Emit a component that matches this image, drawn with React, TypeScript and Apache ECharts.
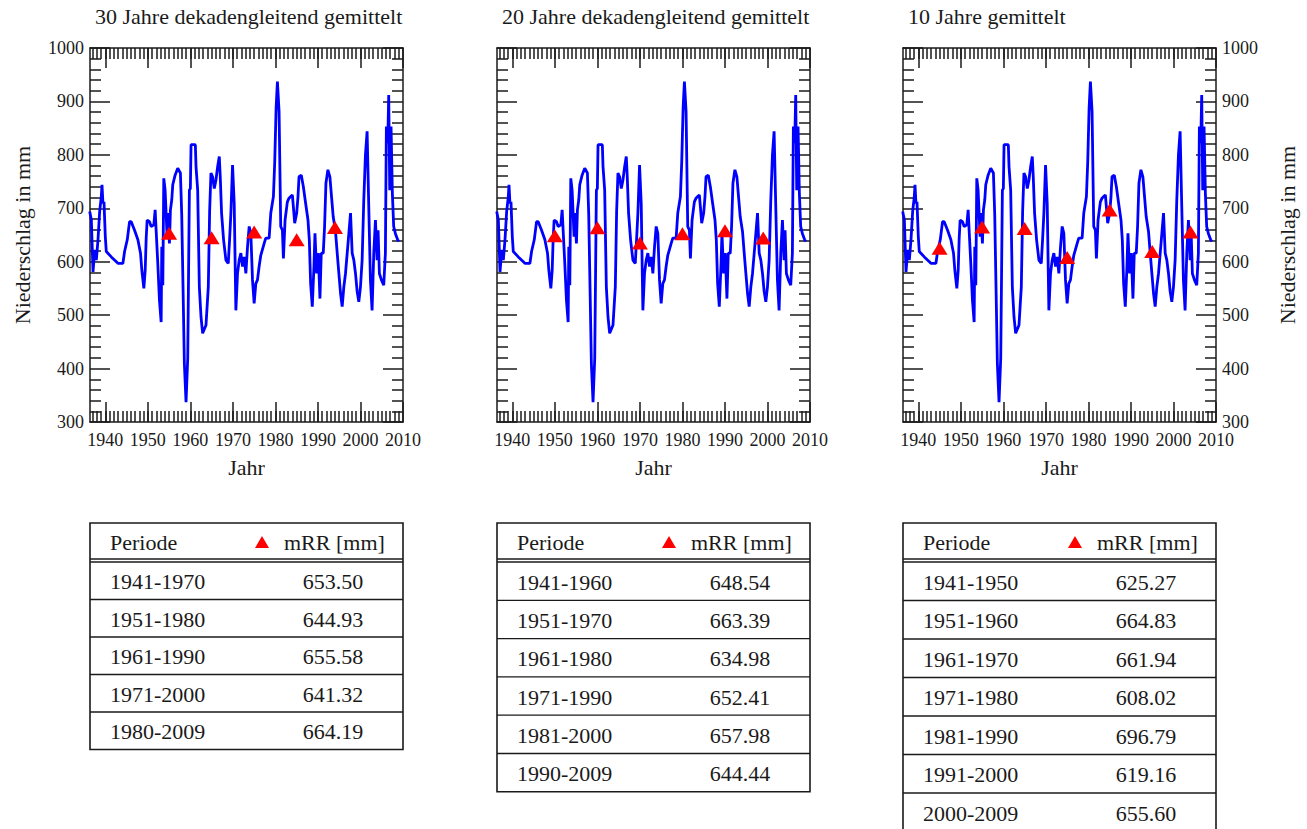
import React, { useEffect, useRef } from 'react';
import * as echarts from 'echarts';

// Jahresniederschlag, decimal years
const years = [
  1936.33, 1936.72, 1937.11, 1937.5, 1937.89, 1938.28, 1938.67, 1939.06, 1939.22, 1939.45, 1939.69, 1940.0, 1940.23,
  1941.41, 1942.97, 1944.14, 1944.53, 1945.16, 1945.7, 1946.09, 1946.88, 1947.66, 1948.28, 1948.59, 1949.06, 1949.38,
  1949.61, 1949.84, 1950.39, 1950.78, 1951.41, 1951.72, 1951.95, 1952.34, 1952.73, 1953.13, 1953.28, 1953.52, 1953.75,
  1954.06, 1954.53, 1954.69, 1955.08, 1955.31, 1955.63, 1955.86, 1956.41, 1957.03, 1957.66, 1957.97, 1958.28, 1958.59,
  1958.98, 1959.38, 1959.77, 1960.0, 1960.16, 1961.17, 1961.33, 1961.72, 1962.11, 1962.5, 1962.89, 1963.67, 1964.22,
  1964.53, 1964.84, 1965.23, 1965.63, 1966.02, 1966.41, 1966.8, 1967.03, 1967.34, 1967.81, 1968.36, 1968.91, 1969.22,
  1969.53, 1969.92, 1970.31, 1970.7, 1971.09, 1971.48, 1971.88, 1972.27, 1972.66, 1973.05, 1973.44, 1973.83, 1974.22,
  1974.61, 1975.0, 1975.39, 1975.78, 1976.17, 1976.56, 1977.34, 1977.73, 1978.52, 1978.91, 1979.53, 1979.84, 1980.16,
  1980.47, 1980.86, 1981.25, 1981.64, 1981.88, 1982.27, 1982.81, 1983.2, 1983.59, 1983.98, 1984.22, 1984.53, 1985.0,
  1985.31, 1985.55, 1986.09, 1986.56, 1987.11, 1987.66, 1987.97, 1988.28, 1988.67, 1989.06, 1989.3, 1989.69, 1990.08,
  1990.47, 1990.78, 1991.25, 1991.56, 1991.88, 1992.34, 1992.81, 1993.13, 1993.59, 1994.14, 1994.53, 1994.92, 1995.31,
  1995.7, 1996.09, 1996.48, 1996.88, 1997.27, 1997.66, 1998.05, 1998.44, 1998.83, 1999.22, 1999.61, 2000.0, 2000.39,
  2000.78, 2001.17, 2001.56, 2001.95, 2002.34, 2002.73, 2003.13, 2003.52, 2003.91, 2004.14, 2004.45, 2004.92, 2005.47,
  2005.86, 2006.09, 2006.41, 2006.64, 2006.88, 2007.19, 2007.5, 2007.81, 2008.2, 2008.75, 2009.06,
];
const precip = [
  694, 678, 581, 622, 603, 641, 694, 722, 744, 709, 712, 647, 619,
  609, 597, 597, 619, 641, 675, 675, 659, 641, 616, 584, 550, 584,
  644, 678, 675, 666, 669, 697, 659, 597, 528, 487, 628, 556, 756,
  734, 647, 691, 634, 697, 716, 744, 762, 775, 766, 688, 550, 409,
  337, 419, 734, 737, 819, 819, 778, 734, 553, 497, 466, 481, 553,
  694, 766, 759, 737, 753, 778, 797, 759, 691, 641, 603, 597, 641,
  691, 781, 709, 509, 578, 603, 616, 591, 609, 578, 628, 666, 653,
  566, 522, 559, 566, 591, 612, 634, 644, 644, 691, 722, 787, 887,
  937, 881, 666, 659, 606, 678, 712, 719, 722, 725, 703, 672, 691,
  722, 759, 762, 741, 709, 678, 641, 559, 516, 591, 653, 578, 616,
  531, 616, 616, 666, 747, 772, 759, 728, 684, 656, 616, 578, 541,
  516, 553, 578, 616, 653, 691, 616, 603, 578, 544, 525, 553, 603,
  716, 800, 844, 703, 566, 509, 616, 678, 603, 659, 578, 566, 556,
  616, 853, 822, 912, 734, 853, 728, 666, 653, 641, 638,
];

const titles = ['30 Jahre dekadengleitend gemittelt', '20 Jahre dekadengleitend gemittelt', '10 Jahre gemittelt'];

const periods30 = ['1941-1970', '1951-1980', '1961-1990', '1971-2000', '1980-2009'];
const means30 = [653.5, 644.93, 655.58, 641.32, 664.19];
const periods20 = ['1941-1960', '1951-1970', '1961-1980', '1971-1990', '1981-2000', '1990-2009'];
const means20 = [648.54, 663.39, 634.98, 652.41, 657.98, 644.44];
const periods10 = ['1941-1950', '1951-1960', '1961-1970', '1971-1980', '1981-1990', '1991-2000', '2000-2009'];
const means10 = [625.27, 664.83, 661.94, 608.02, 696.79, 619.16, 655.6];

const decadeTicks = [1940, 1950, 1960, 1970, 1980, 1990, 2000, 2010];
const yearTicks: number[] = [];
for (let y = 1937; y <= 2009; y++) yearTicks.push(y);

const X_MIN = 1936.4;
const X_MAX = 2010;
const FONT = '"Liberation Serif", "Times New Roman", Times, serif';
const INK = '#1a1a1a';
const BLUE = '#0000ff';
const RED = '#ff0000';

const PLOT_TOP = 48;
const PLOT_H = 374;
const PLOT_W = 313;

const panels = [
  { left: 90, title: titles[0], periods: periods30, means: means30, rowH: 37.5 },
  { left: 497, title: titles[1], periods: periods20, means: means20, rowH: 38.3 },
  { left: 903, title: titles[2], periods: periods10, means: means10, rowH: 38.5 },
];

function midYear(p: string) {
  const [a, b] = p.split('-').map(Number);
  return (a + b - 1) / 2;
}

function tableGraphics(x0: number, x1: number, periods: string[], means: number[], rowH: number) {
  const els: any[] = [];
  const top = 523;
  const hdr = 559;
  const body = 562;
  const bottom = body + periods.length * rowH;
  const lineStyle = { stroke: INK, lineWidth: 1.3 };
  els.push({ type: 'rect', shape: { x: x0, y: top, width: x1 - x0, height: bottom - top }, style: { fill: 'none', stroke: INK, lineWidth: 1.6 } });
  els.push({ type: 'line', shape: { x1: x0, y1: hdr, x2: x1, y2: hdr }, style: lineStyle });
  els.push({ type: 'line', shape: { x1: x0, y1: body, x2: x1, y2: body }, style: lineStyle });
  for (let k = 1; k < periods.length; k++) {
    const y = body + k * rowH;
    els.push({ type: 'line', shape: { x1: x0, y1: y, x2: x1, y2: y }, style: lineStyle });
  }
  const txt = (text: string, x: number, y: number, align: string) => ({
    type: 'text',
    style: {
      text, x, y, fill: INK, font: `22px ${FONT}`,
      textAlign: align, textVerticalAlign: 'middle', align, verticalAlign: 'middle',
    },
  });
  const hy = (top + hdr) / 2 + 1;
  els.push(txt('Periode', x0 + 20, hy, 'left'));
  const tx = x0 + 172;
  els.push({ type: 'polygon', shape: { points: [[tx - 7, hy + 6], [tx + 7, hy + 6], [tx, hy - 6]] }, style: { fill: RED } });
  els.push(txt('mRR [mm]', x0 + 194, hy, 'left'));
  periods.forEach((p, k) => {
    const cy = body + k * rowH + rowH / 2 + 1;
    els.push(txt(p, x0 + 20, cy, 'left'));
    els.push(txt(means[k].toFixed(2), x0 + 243, cy, 'center'));
  });
  return els;
}

export default function App() {
  const ref = useRef<HTMLDivElement>(null);
  useEffect(() => {
    if (!ref.current) return;
    const chart = echarts.init(ref.current, undefined, { renderer: 'svg' });
    const lineData = years.map((y, k) => [y, precip[k]]);
    const grid: any[] = [];
    const xAxis: any[] = [];
    const yAxis: any[] = [];
    const series: any[] = [];
    const title: any[] = [];
    const graphic: any[] = [];
    const tickLine = { color: INK, width: 1.5 };
    const plain = (v: number) => String(v);
    panels.forEach((p, i) => {
      grid.push({ left: p.left, top: PLOT_TOP, width: PLOT_W, height: PLOT_H, containLabel: false });
      title.push({ text: p.title, left: p.left, top: 0, textStyle: { fontFamily: FONT, fontSize: 22, fontWeight: 'normal', color: INK } });
      const base = { type: 'value', gridIndex: i, min: X_MIN, max: X_MAX, splitLine: { show: false } };
      xAxis.push({
        ...base, position: 'bottom',
        axisLine: { show: true, lineStyle: tickLine },
        axisTick: { show: true, inside: true, length: 20, customValues: decadeTicks, lineStyle: tickLine },
        axisLabel: { show: true, customValues: decadeTicks, formatter: plain, fontFamily: FONT, fontSize: 18, color: INK, margin: 9 },
        name: 'Jahr', nameLocation: 'middle', nameGap: 34,
        nameTextStyle: { fontFamily: FONT, fontSize: 22, color: INK },
      });
      xAxis.push({
        ...base, position: 'bottom', axisLine: { show: false },
        axisTick: { show: true, inside: true, length: 11, customValues: yearTicks, lineStyle: tickLine },
        axisLabel: { show: false },
      });
      xAxis.push({
        ...base, position: 'top',
        axisLine: { show: true, lineStyle: tickLine },
        axisTick: { show: true, inside: true, length: 20, customValues: decadeTicks, lineStyle: tickLine },
        axisLabel: { show: false },
      });
      xAxis.push({
        ...base, position: 'top', axisLine: { show: false },
        axisTick: { show: true, inside: true, length: 11, customValues: yearTicks, lineStyle: tickLine },
        axisLabel: { show: false },
      });
      const ybase = {
        type: 'value', gridIndex: i, min: 300, max: 1000, interval: 100,
        splitLine: { show: false },
        axisLine: { show: true, lineStyle: tickLine },
        axisTick: { show: true, inside: true, length: 20, lineStyle: tickLine },
        minorTick: { show: true, splitNumber: 5, length: 11, lineStyle: tickLine },
      };
      yAxis.push({
        ...ybase, position: 'left',
        axisLabel: { show: i === 0, formatter: plain, fontFamily: FONT, fontSize: 18, color: INK, margin: 6 },
        name: i === 0 ? 'Niederschlag in mm' : '', nameLocation: 'middle', nameGap: 57, nameRotate: 90,
        nameTextStyle: { fontFamily: FONT, fontSize: 22, color: INK },
      });
      yAxis.push({
        ...ybase, position: 'right',
        axisLabel: { show: i === 2, formatter: plain, fontFamily: FONT, fontSize: 18, color: INK, margin: 6 },
        name: i === 2 ? 'Niederschlag in mm' : '', nameLocation: 'middle', nameGap: 60, nameRotate: 90,
        nameTextStyle: { fontFamily: FONT, fontSize: 22, color: INK },
      });
      series.push({
        type: 'line', xAxisIndex: 4 * i, yAxisIndex: 2 * i, data: lineData,
        symbol: 'none', showSymbol: false, silent: true,
        lineStyle: { color: BLUE, width: 2.8 }, z: 3,
      });
      series.push({
        type: 'scatter', xAxisIndex: 4 * i, yAxisIndex: 2 * i,
        data: p.periods.map((per, k) => [midYear(per), p.means[k]]),
        symbol: 'triangle', symbolSize: [16, 13], itemStyle: { color: RED, opacity: 1 }, z: 5, silent: true,
      });
      graphic.push(...tableGraphics(p.left, p.left + PLOT_W, p.periods, p.means, p.rowH));
    });
    chart.setOption({
      animation: false,
      backgroundColor: '#ffffff',
      title, grid, xAxis, yAxis, series, graphic,
    });
    return () => chart.dispose();
  }, []);
  return <div ref={ref} style={{ position: 'absolute', left: 0, top: 0, width: 1307, height: 829 }} />;
}
